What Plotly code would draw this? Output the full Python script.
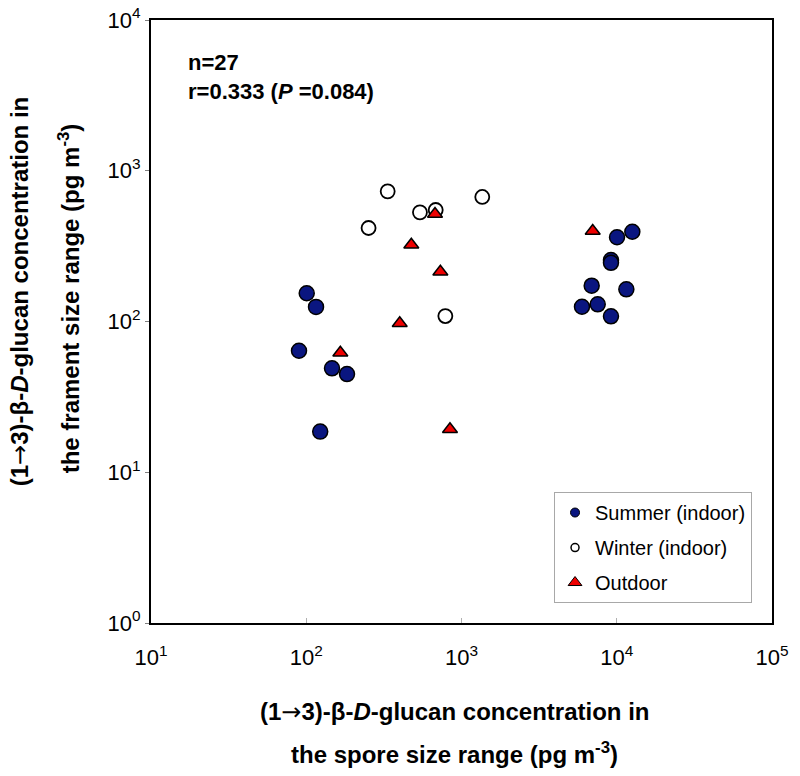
import plotly.graph_objects as go

# ---- data ----
summer_x = [100.7, 115.6, 89.8, 146.5, 183, 123, 10040, 12600, 9180, 9180, 6895, 11530, 5972, 7540, 9180]
summer_y = [154, 125, 64, 48.9, 44.8, 18.6, 362, 394, 256, 245, 172.8, 163.5, 125.3, 130, 108.2]
winter_x = [252, 334.6, 540, 682, 787, 1361]
winter_y = [417, 730, 530, 549, 108.7, 670]
outdoor_x = [675, 475, 731, 400, 165.8, 843, 7000]
outdoor_y = [517, 323, 214, 97.3, 62.1, 19.3, 398]

x_tickvals = [10, 100, 1000, 10000, 100000]
x_ticktext = ["10<sup>1</sup>", "10<sup>2</sup>", "10<sup>3</sup>", "10<sup>4</sup>", "10<sup>5</sup>"]
y_tickvals = [1, 10, 100, 1000, 10000]
y_ticktext = ["10<sup>0</sup>", "10<sup>1</sup>", "10<sup>2</sup>", "10<sup>3</sup>", "10<sup>4</sup>"]

FONT = "Liberation Sans, Arial, sans-serif"
BLUE = "#0a1680"
RED = "#ee0000"
ARROW = '<span style="font-family:DejaVu Sans;font-weight:normal">\u2192</span>'

fig = go.Figure()

# data traces
fig.add_trace(go.Scatter(x=summer_x, y=summer_y, mode="markers", showlegend=False,
                         marker=dict(symbol="circle", size=15, color=BLUE,
                                     line=dict(color="black", width=1.5))))
fig.add_trace(go.Scatter(x=winter_x, y=winter_y, mode="markers", showlegend=False,
                         marker=dict(symbol="circle", size=14, color="white",
                                     line=dict(color="black", width=1.8))))
fig.add_trace(go.Scatter(x=outdoor_x, y=outdoor_y, mode="markers", showlegend=False,
                         marker=dict(symbol="triangle-up", size=13, color=RED,
                                     line=dict(color="black", width=1.5))))

# legend-only traces (smaller symbols, as in the reference legend)
fig.add_trace(go.Scatter(x=[None], y=[None], mode="markers", name="Summer (indoor)",
                         legendgroup="a",
                         marker=dict(symbol="circle", size=9, color=BLUE,
                                     line=dict(color="black", width=1))))
fig.add_trace(go.Scatter(x=[None], y=[None], mode="markers", name="Winter (indoor)",
                         legendgroup="b",
                         marker=dict(symbol="circle", size=8, color="white",
                                     line=dict(color="black", width=1.5))))
fig.add_trace(go.Scatter(x=[None], y=[None], mode="markers", name="Outdoor",
                         legendgroup="c",
                         marker=dict(symbol="triangle-up", size=12, color=RED,
                                     line=dict(color="black", width=1))))

fig.update_layout(
    width=800, height=776,
    margin=dict(l=151, r=28, t=20, b=153, autoexpand=False),
    paper_bgcolor="white", plot_bgcolor="white",
    font=dict(family=FONT, color="black"),
    legend=dict(x=0.649, y=0.2172, xanchor="left", yanchor="top",
                bgcolor="white", bordercolor="#a8a8a8", borderwidth=1,
                font=dict(family=FONT, size=20, color="black"),
                traceorder="grouped", tracegroupgap=6),
)

fig.update_xaxes(type="log", range=[1, 5], tickvals=x_tickvals, ticktext=x_ticktext,
                 showgrid=False, zeroline=False, automargin=False,
                 showline=True, linecolor="black", linewidth=2, mirror=True,
                 ticks="inside", ticklen=5, tickcolor="#b0b0b0", tickwidth=1,
                 ticklabelstandoff=14,
                 tickfont=dict(family=FONT, size=22, color="black"))
fig.update_yaxes(type="log", range=[0, 4], tickvals=y_tickvals, ticktext=y_ticktext,
                 showgrid=False, zeroline=False, automargin=False,
                 showline=True, linecolor="black", linewidth=2, mirror=True,
                 ticks="outside", ticklen=4, tickcolor="#808080", tickwidth=1,
                 tickfont=dict(family=FONT, size=22, color="black"))

title_font = dict(family=FONT, size=24, color="black")
line1 = "<b>(1" + ARROW + "3)-\u03b2-<i>D</i>-glucan concentration in</b>"
# x-axis title (two lines)
fig.add_annotation(xref="paper", yref="paper", x=0.4895, y=-0.1476, showarrow=False,
                   xanchor="center", yanchor="middle", font=title_font, text=line1)
fig.add_annotation(xref="paper", yref="paper", x=0.4895, y=-0.2156, showarrow=False,
                   xanchor="center", yanchor="middle", font=title_font,
                   text="<b>the spore size range (pg m<sup>-3</sup>)</b>")
# y-axis title (two lines)
fig.add_annotation(xref="paper", yref="paper", x=-0.2105, y=0.549, showarrow=False,
                   xanchor="center", yanchor="middle", textangle=-90, font=title_font,
                   text=line1)
fig.add_annotation(xref="paper", yref="paper", x=-0.1315, y=0.539, showarrow=False,
                   xanchor="center", yanchor="middle", textangle=-90, font=title_font,
                   text="<b>the frament size range (pg m<sup>-3</sup>)</b>")

# statistics text
stat_font = dict(family=FONT, size=22, color="black")
fig.add_annotation(xref="paper", yref="paper", x=0.056, y=0.930, showarrow=False,
                   xanchor="left", yanchor="middle", font=stat_font,
                   text="<b>n=27</b>")
fig.add_annotation(xref="paper", yref="paper", x=0.056, y=0.8806, showarrow=False,
                   xanchor="left", yanchor="middle", font=stat_font,
                   text="<b>r=0.333 (<i>P</i> =0.084)</b>")

fig.write_html("out.html", config={"displayModeBar": False},
               post_script="document.body.style.margin='0';")
